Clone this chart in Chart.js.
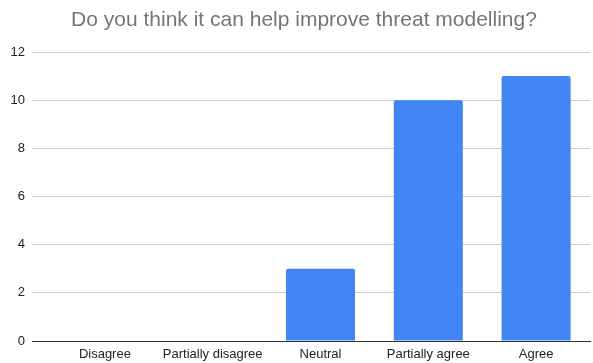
<!DOCTYPE html>
<html>
<head>
<meta charset="utf-8">
<script src="https://cdn.jsdelivr.net/npm/chart.js@4/dist/chart.umd.min.js"></script>
<style>
  html, body { margin: 0; padding: 0; background: #fff; }
  #wrap { width: 593px; height: 363px; position: relative; }
</style>
</head>
<body>
<div id="wrap"><canvas id="c"></canvas></div>
<script>
// Survey answers
const titleText = "Do you think it can help improve threat modelling?";
const categories = ["Disagree", "Partially disagree", "Neutral", "Partially agree", "Agree"];
const responses = [0, 0, 3, 10, 11];
const yTicks = [0, 2, 4, 6, 8, 10, 12];

const FONT = "Arial, 'Liberation Sans', sans-serif";

// Heading drawn slightly right of the canvas centre, above the plot
const headingPlugin = {
  id: "heading",
  afterDraw(chart) {
    const ctx = chart.ctx;
    ctx.save();
    ctx.fillStyle = "#757575";
    ctx.font = "21px " + FONT;
    ctx.textAlign = "center";
    ctx.textBaseline = "alphabetic";
    ctx.fillText(titleText, 304, 26);
    ctx.restore();
  }
};

new Chart(document.getElementById("c"), {
  type: "bar",
  data: {
    labels: categories,
    datasets: [{
      data: responses,
      backgroundColor: "#4285F4",
      borderWidth: 0,
      borderRadius: { topLeft: 2, topRight: 2 },
      borderSkipped: "bottom",
      barPercentage: 0.64,
      categoryPercentage: 1
    }]
  },
  plugins: [headingPlugin],
  options: {
    responsive: true,
    maintainAspectRatio: false,
    animation: false,
    layout: { padding: { left: 0, right: 3, top: 52, bottom: 0 } },
    plugins: {
      legend: { display: false },
      tooltip: { enabled: false },
      title: { display: false }
    },
    scales: {
      x: {
        grid: { display: false, drawTicks: false },
        border: { display: true, color: "#333333", width: 1 },
        ticks: {
          color: "#222222",
          font: { family: FONT, size: 13 },
          padding: 6,
          maxRotation: 0,
          autoSkip: false
        },
        afterFit(axis) { axis.height = 22; }
      },
      y: {
        min: 0,
        max: 12,
        afterBuildTicks(axis) { axis.ticks = yTicks.map(v => ({ value: v })); },
        grid: {
          color: ctx => (ctx.tick && ctx.tick.value === 0 ? "#333333" : "#cccccc"),
          lineWidth: 1,
          drawTicks: true,
          tickLength: 19
        },
        border: { display: false },
        ticks: {
          color: "#222222",
          font: { family: FONT, size: 13 },
          padding: 7
        },
        afterFit(axis) { axis.width = 51; }
      }
    }
  }
});
</script>
</body>
</html>
